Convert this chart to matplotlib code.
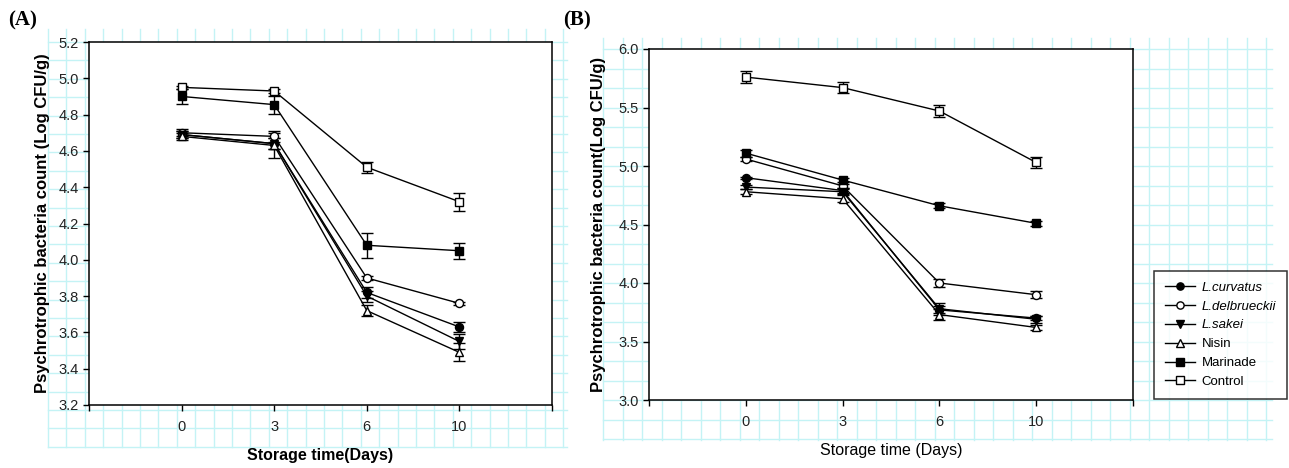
import matplotlib.pyplot as plt
import numpy as np

plt.rc('font', family=['Liberation Sans', 'DejaVu Sans'])

days = ['0', '3', '6', '10']
names = ['L.curvatus', 'L.delbrueckii', 'L.sakei', 'Nisin', 'Marinade', 'Control']

# panel (A) means and errors, order as in names
a_curvatus = [4.69, 4.64, 3.82, 3.63]
a_delbrueckii = [4.70, 4.68, 3.90, 3.76]
a_sakei = [4.69, 4.64, 3.80, 3.55]
a_nisin = [4.68, 4.63, 3.72, 3.49]
a_marinade = [4.90, 4.855, 4.08, 4.05]
a_control = [4.95, 4.93, 4.51, 4.32]

a_curvatus_err = [0.02, 0.03, 0.03, 0.03]
a_delbrueckii_err = [0.02, 0.03, 0.01, 0.01]
a_sakei_err = [0.02, 0.03, 0.03, 0.04]
a_nisin_err = [0.02, 0.07, 0.03, 0.05]
a_marinade_err = [0.04, 0.05, 0.07, 0.045]
a_control_err = [0.01, 0.01, 0.03, 0.05]

# panel (B)
b_curvatus = [4.90, 4.79, 3.77, 3.70]
b_delbrueckii = [5.06, 4.83, 4.00, 3.90]
b_sakei = [4.82, 4.78, 3.78, 3.69]
b_nisin = [4.78, 4.72, 3.73, 3.62]
b_marinade = [5.11, 4.88, 4.66, 4.51]
b_control = [5.76, 5.67, 5.47, 5.03]

b_curvatus_err = [0.01, 0.02, 0.03, 0.02]
b_delbrueckii_err = [0.02, 0.02, 0.03, 0.03]
b_sakei_err = [0.02, 0.02, 0.05, 0.03]
b_nisin_err = [0.02, 0.03, 0.05, 0.02]
b_marinade_err = [0.03, 0.02, 0.02, 0.02]
b_control_err = [0.05, 0.05, 0.05, 0.05]

markers = ['o', 'o', 'v', '^', 's', 's']
faces = ['black', 'white', 'black', 'white', 'black', 'white']
italic = [True, True, True, False, False, False]

W, H = 1289, 468
fig = plt.figure(figsize=(W / 100, H / 100), dpi=100)

# graph-paper background (pixel coordinates)
bg = fig.add_axes([0, 0, 1, 1], zorder=0)
bg.set_xlim(0, W)
bg.set_ylim(H, 0)
bg.axis('off')
grid_col = '#c4f3f5'


def paper(x0, x1, y0, y1, step, xs, ys):
    for gx in np.arange(xs, x1, step):
        bg.plot([gx, gx], [y0, y1], color=grid_col, lw=1)
    for gy in np.arange(ys, y1, step):
        bg.plot([x0, x1], [gy, gy], color=grid_col, lw=1)


paper(48, 567, 29, 447, 18.4, 48, 42)
paper(603, 1272, 38, 440, 19.5, 603, 49)


def panel(ax, series, errs, ylim, yticks, ylabel, xlabel, xbold, ylabelpad):
    x = np.arange(1, len(days) + 1)
    handles = []
    for i in range(len(names)):
        h = ax.errorbar(x, series[i], yerr=errs[i], color='black', lw=1,
                        marker=markers[i], mfc=faces[i], mec='black', mew=1,
                        ms=5.8, capsize=4, elinewidth=1, capthick=1)
        handles.append(h)
    ax.set_xlim(0, 5)
    ax.set_ylim(*ylim)
    ax.set_yticks(yticks)
    ax.set_yticklabels(['%.1f' % t for t in yticks])
    ax.set_xticks(range(0, 6))
    ax.set_xticklabels([''] + days + [''])
    ax.tick_params(direction='out', length=4, width=1, labelsize=10.5,
                   labelcolor='#222222', top=False, right=False)
    ax.tick_params(axis='x', pad=7)
    for s in ax.spines.values():
        s.set_linewidth(1.1)
    ax.set_ylabel(ylabel, fontsize=12, fontweight='bold', labelpad=ylabelpad)
    ax.set_xlabel(xlabel, fontsize=11.5, fontweight='bold' if xbold else 'normal',
                  labelpad=10)
    ax.set_facecolor('white')
    return handles


axA = fig.add_axes([89 / W, 1 - 405 / H, 463 / W, 363 / H], zorder=2)
panel(axA,
      [a_curvatus, a_delbrueckii, a_sakei, a_nisin, a_marinade, a_control],
      [a_curvatus_err, a_delbrueckii_err, a_sakei_err, a_nisin_err,
       a_marinade_err, a_control_err],
      (3.2, 5.2), np.arange(3.2, 5.21, 0.2),
      'Psychrotrophic bacteria count (Log CFU/g)', 'Storage time(Days)', True, 6)

axB = fig.add_axes([649 / W, 1 - 400 / H, 484 / W, 351 / H], zorder=2)
hs = panel(axB,
           [b_curvatus, b_delbrueckii, b_sakei, b_nisin, b_marinade, b_control],
           [b_curvatus_err, b_delbrueckii_err, b_sakei_err, b_nisin_err,
            b_marinade_err, b_control_err],
           (3.0, 6.0), np.arange(3.0, 6.01, 0.5),
           'Psychrotrophic bacteria count(Log CFU/g)', 'Storage time (Days)', False, 9)

leg = fig.legend([h[0] for h in hs], names, loc='upper left',
                 bbox_to_anchor=(1154 / W, 1 - 271 / H), borderaxespad=0,
                 fontsize=9.5, frameon=True, fancybox=False, edgecolor='black',
                 handlelength=2.3, labelspacing=0.5, borderpad=0.8,
                 handletextpad=0.5, markerscale=0.9)
leg.get_frame().set_linewidth(1.1)
leg.set_zorder(5)
for t, it in zip(leg.get_texts(), italic):
    if it:
        t.set_fontstyle('italic')

fig.text(8 / W, 1 - 10 / H, '(A)', family='Liberation Serif', fontweight='bold',
         fontsize=15, va='top', ha='left')
fig.text(563 / W, 1 - 10 / H, '(B)', family='Liberation Serif', fontweight='bold',
         fontsize=15, va='top', ha='left')

plt.savefig('out.png', dpi=100)
